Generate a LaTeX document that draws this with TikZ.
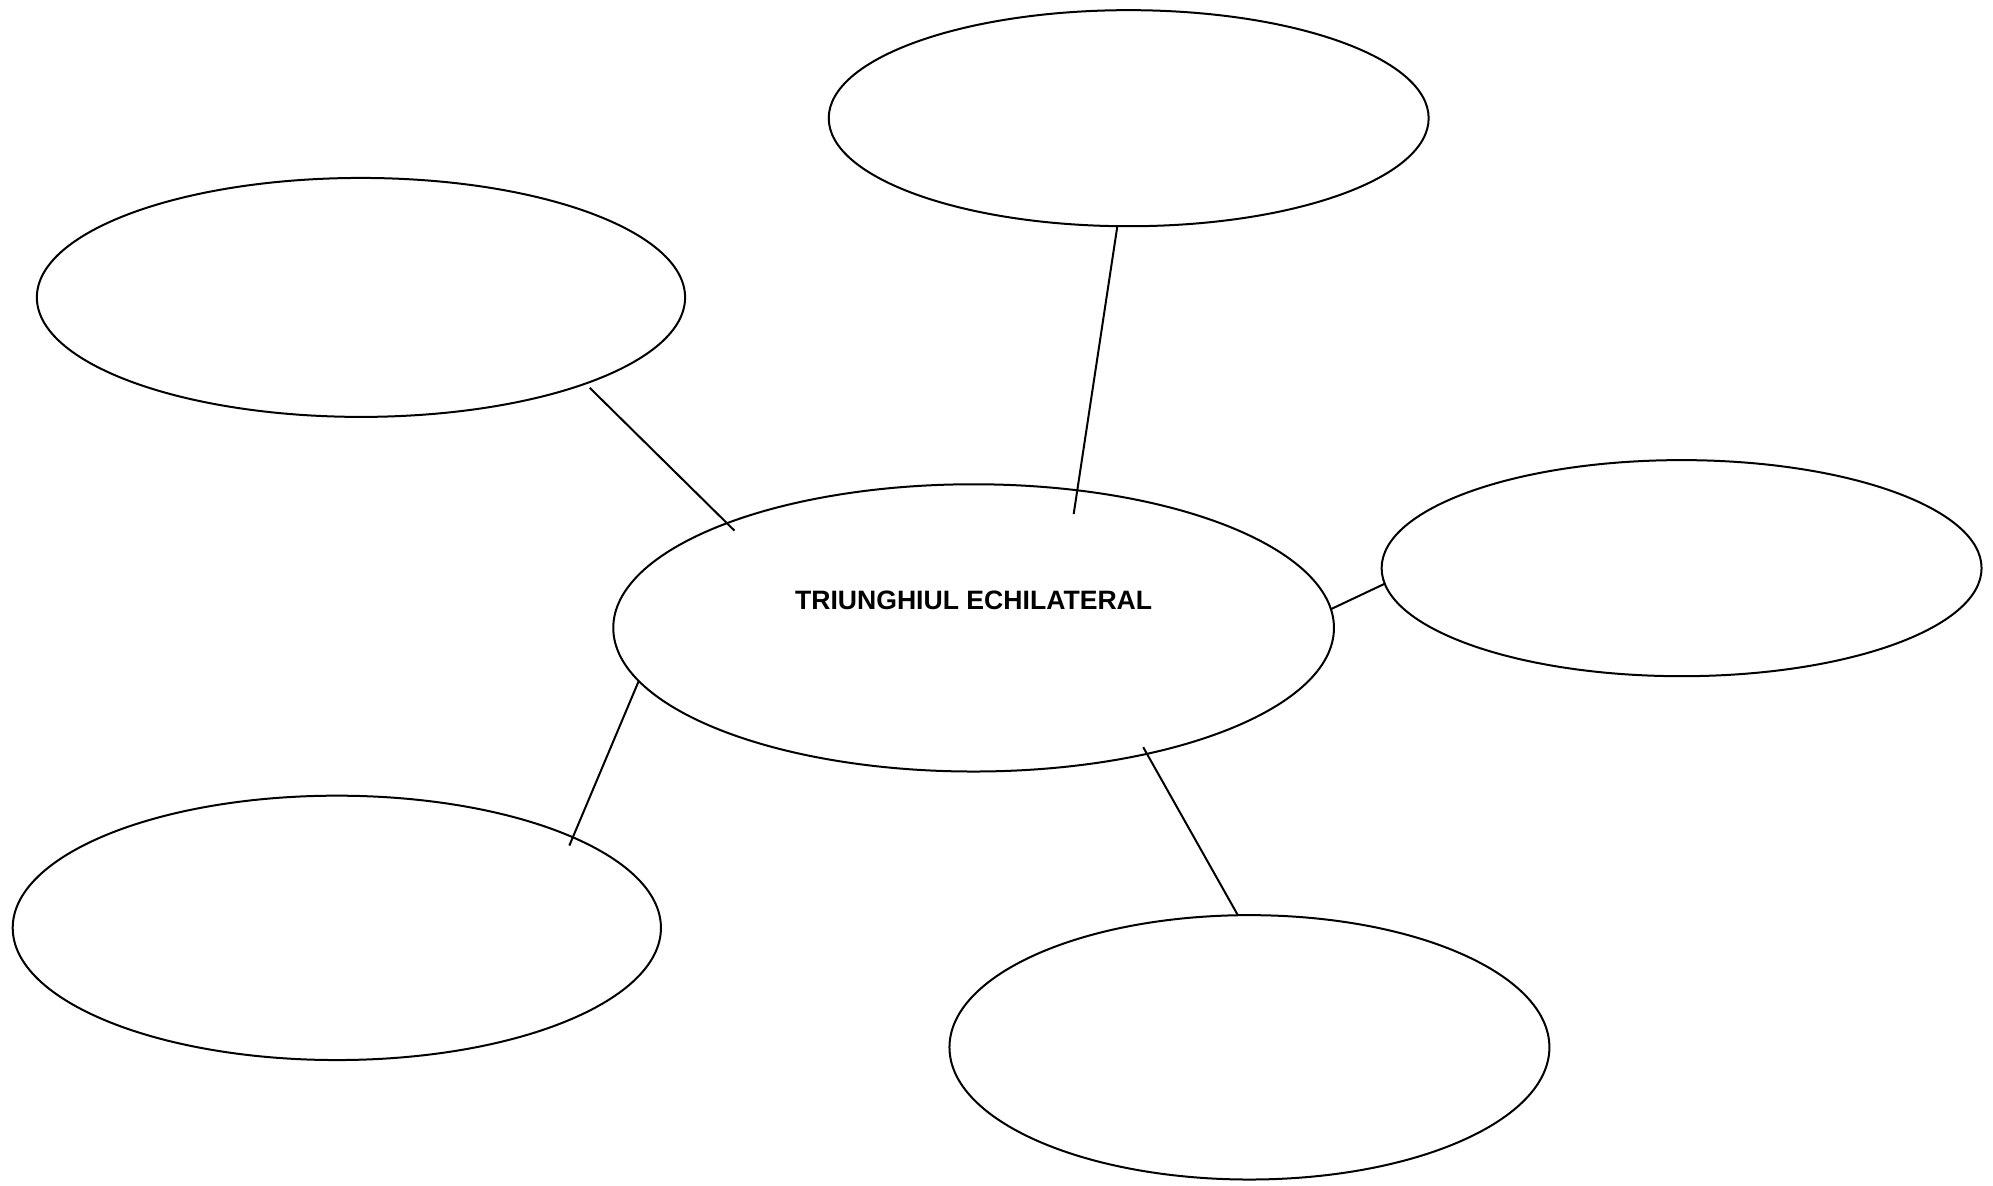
\documentclass[tikz,border=0pt]{standalone}
\usepackage{fontspec}
\setmainfont{Liberation Sans}
\usetikzlibrary{shapes.geometric}
\tikzset{
  bubble/.style={ellipse, draw, line width=1pt, inner sep=0pt, outer sep=0pt},
  link/.style={line width=1pt},
}
\begin{document}
\begin{tikzpicture}[x=0.63553pt, y=-0.63553pt]
\useasboundingbox (0,0) rectangle (1568,933);
\node[bubble, minimum width=472*0.63553pt, minimum height=170*0.63553pt] (top) at (888,93) {};
\node[bubble, minimum width=510*0.63553pt, minimum height=188*0.63553pt] (ul) at (284,234) {};
\node[bubble, minimum width=567*0.63553pt, minimum height=226*0.63553pt] (c) at (766,494) {};
\node[bubble, minimum width=472*0.63553pt, minimum height=170*0.63553pt] (r) at (1323,447) {};
\node[bubble, minimum width=510*0.63553pt, minimum height=208*0.63553pt] (ll) at (265,730) {};
\node[bubble, minimum width=472*0.63553pt, minimum height=208*0.63553pt] (b) at (983,824) {};
\node[font=\fontsize{13.3pt}{15pt}\selectfont\bfseries, inner sep=0pt] (title) at (766,472) {TRIUNGHIUL ECHILATERAL};
\draw[link, shorten <=3pt, shorten >=-5.3pt] (ul.-21.4) -- (c.157.2);
\draw[link, shorten >=-12pt] (top.-96) -- (c.53.9);
\draw[link] (c.3.3) -- (r.-177.6);
\draw[link, shorten >=-4.5pt] (c.-171.6) -- (ll.21.7);
\draw[link, shorten <=-3.8pt] (c.-36.1) -- (b.95);
\end{tikzpicture}
\end{document}
